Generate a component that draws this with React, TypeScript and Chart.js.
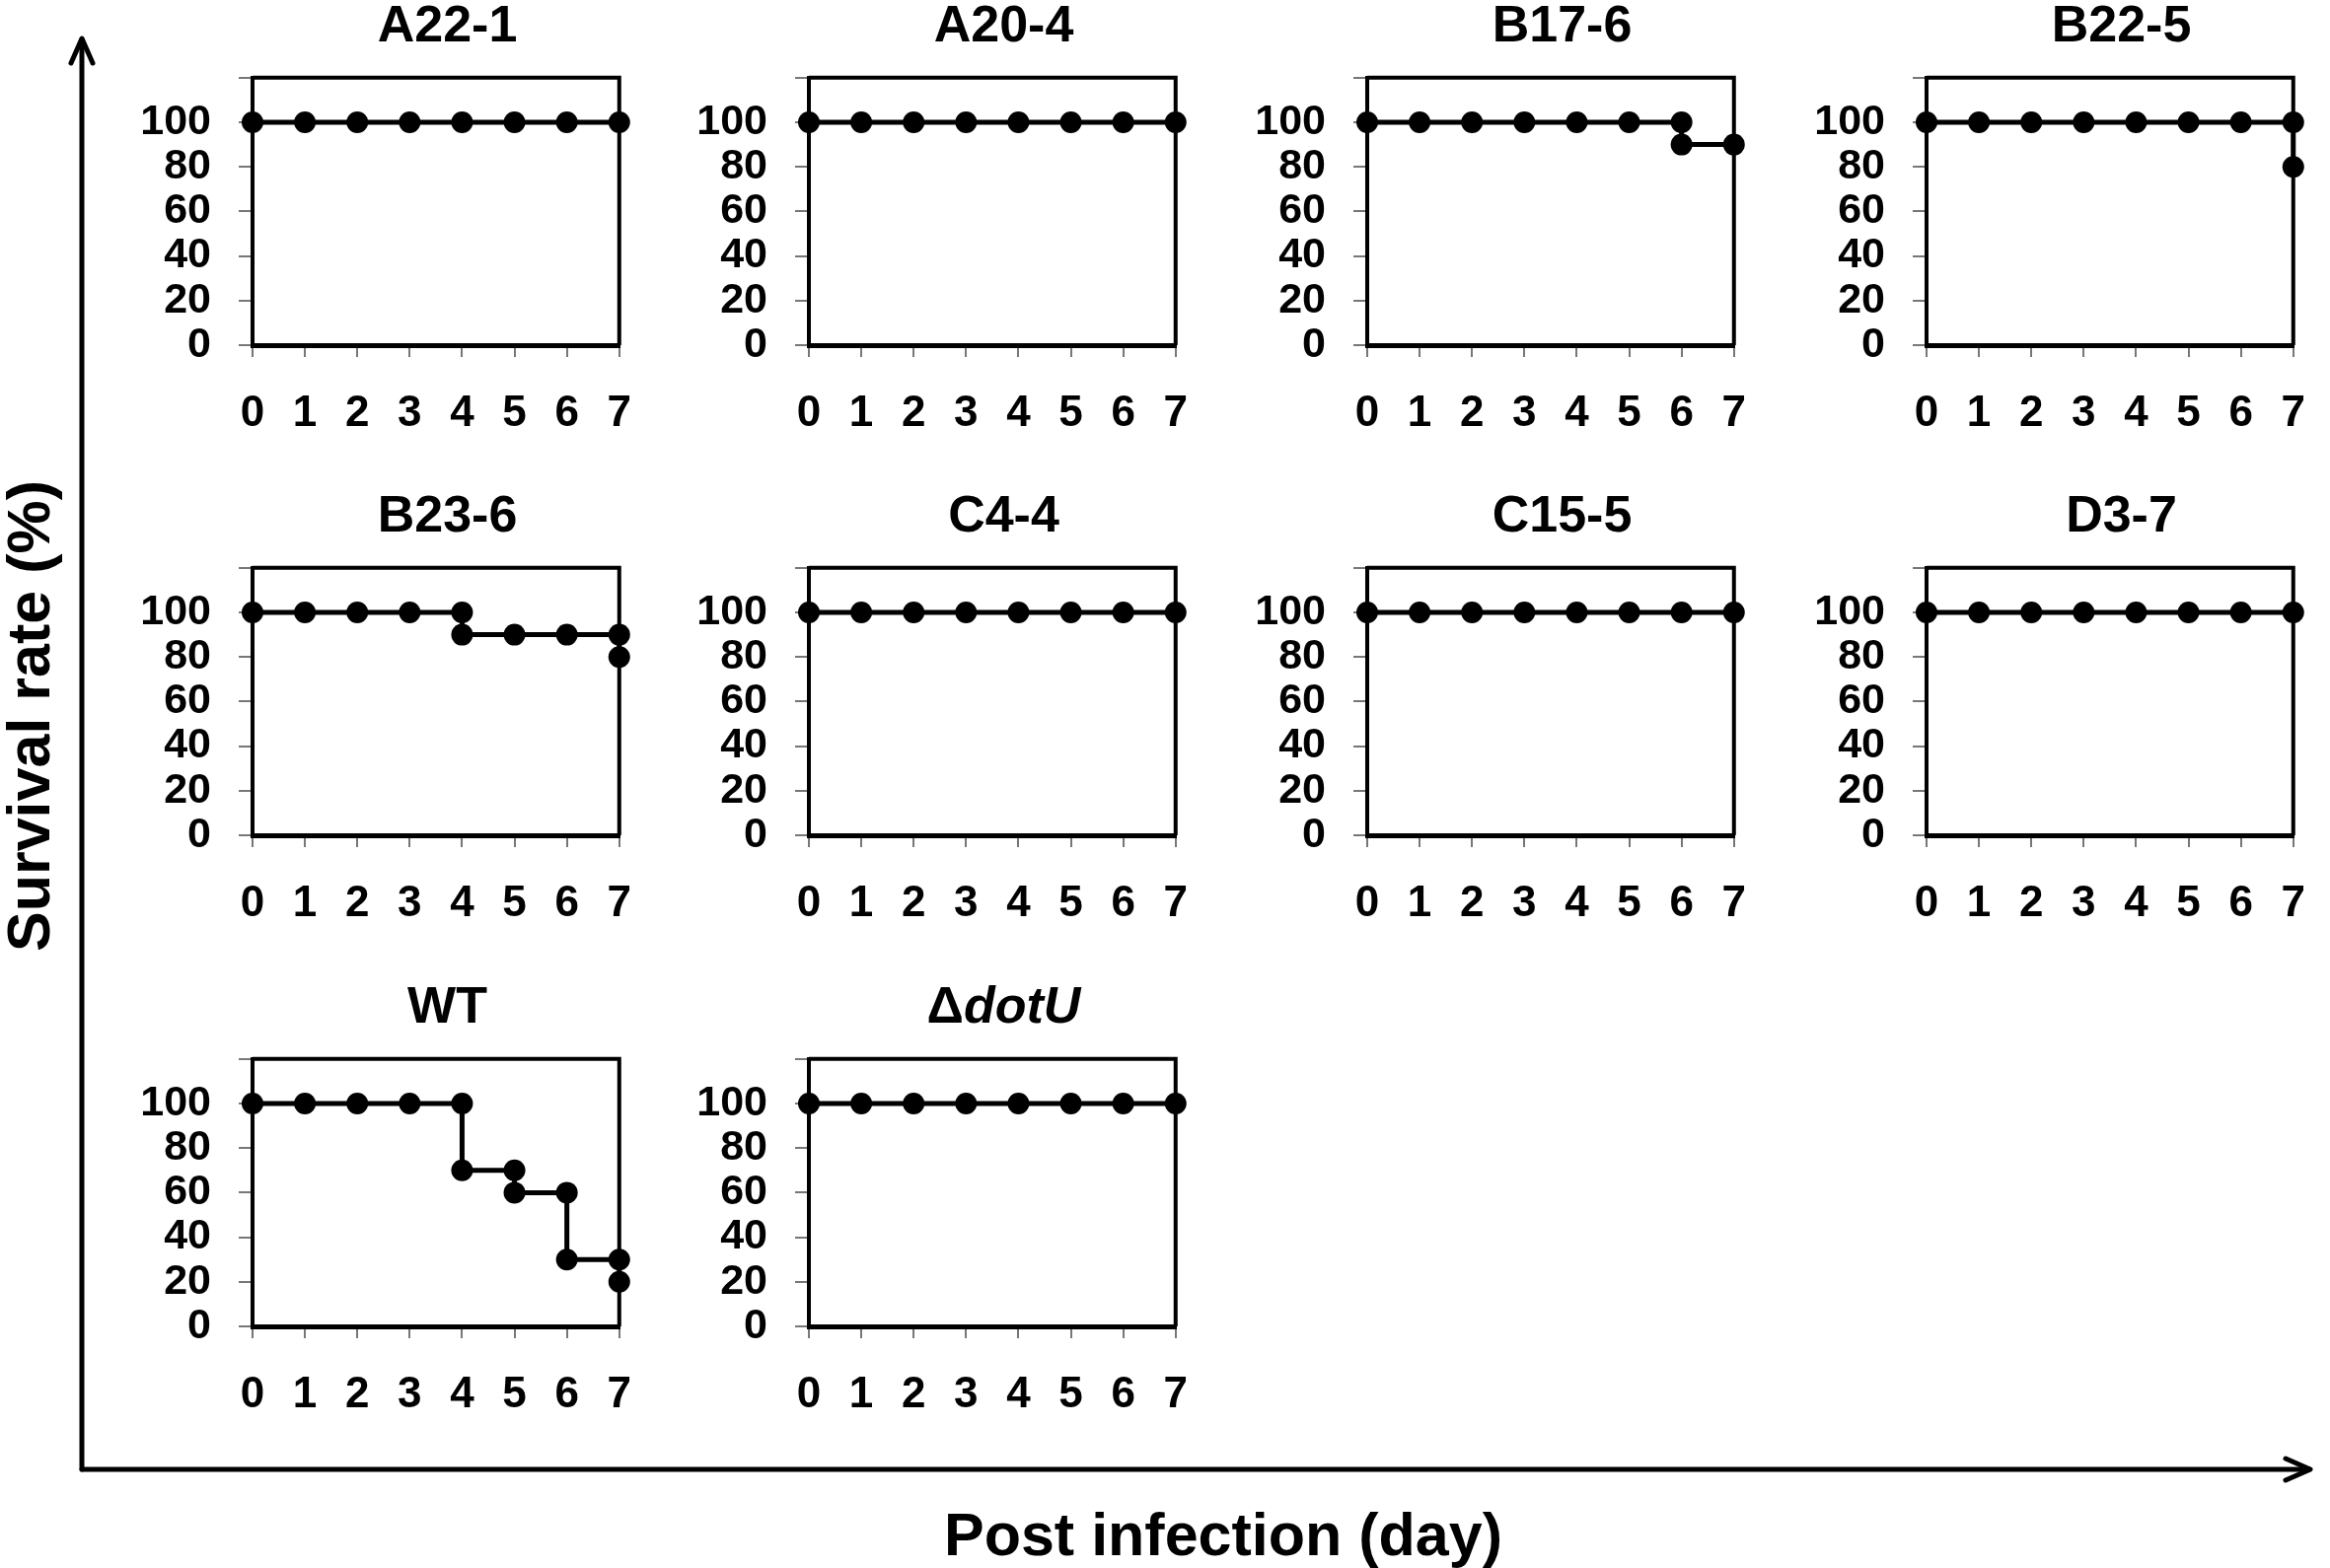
import { useEffect, useRef } from 'react';
import { Chart, registerables } from 'chart.js';

Chart.register(...registerables);

const FONT = '"Liberation Sans", Arial, Helvetica, sans-serif';

// strains in reading order (4 per row)
const strains = ['A22-1', 'A20-4', 'B17-6', 'B22-5', 'B23-6', 'C4-4', 'C15-5', 'D3-7', 'WT', 'ΔdotU'];

// tick labels
const dayTicks = [0, 1, 2, 3, 4, 5, 6, 7];
const rateTicks = [0, 20, 40, 60, 80, 100, 120];

// survival curves: a day appears twice where the curve steps down
const a22Days = [0, 1, 2, 3, 4, 5, 6, 7];
const a22Rates = [100, 100, 100, 100, 100, 100, 100, 100];
const a20Days = [0, 1, 2, 3, 4, 5, 6, 7];
const a20Rates = [100, 100, 100, 100, 100, 100, 100, 100];
const b17Days = [0, 1, 2, 3, 4, 5, 6, 6, 7];
const b17Rates = [100, 100, 100, 100, 100, 100, 100, 90, 90];
const b22Days = [0, 1, 2, 3, 4, 5, 6, 7, 7];
const b22Rates = [100, 100, 100, 100, 100, 100, 100, 100, 80];
const b23Days = [0, 1, 2, 3, 4, 4, 5, 6, 7, 7];
const b23Rates = [100, 100, 100, 100, 100, 90, 90, 90, 90, 80];
const c4Days = [0, 1, 2, 3, 4, 5, 6, 7];
const c4Rates = [100, 100, 100, 100, 100, 100, 100, 100];
const c15Days = [0, 1, 2, 3, 4, 5, 6, 7];
const c15Rates = [100, 100, 100, 100, 100, 100, 100, 100];
const d3Days = [0, 1, 2, 3, 4, 5, 6, 7];
const d3Rates = [100, 100, 100, 100, 100, 100, 100, 100];
const wtDays = [0, 1, 2, 3, 4, 4, 5, 5, 6, 6, 7, 7];
const wtRates = [100, 100, 100, 100, 100, 70, 70, 60, 60, 30, 30, 20];
const dotUDays = [0, 1, 2, 3, 4, 5, 6, 7];
const dotURates = [100, 100, 100, 100, 100, 100, 100, 100];

const curveDays = [a22Days, a20Days, b17Days, b22Days, b23Days, c4Days, c15Days, d3Days, wtDays, dotUDays];
const curveRates = [a22Rates, a20Rates, b17Rates, b22Rates, b23Rates, c4Rates, c15Rates, d3Rates, wtRates, dotURates];

// layout of the plot boxes (px)
const colLeft = [256, 820, 1386, 1953];
const rowTop = [55, 552, 1050];
const BOX_W = 395;
const BOX_H = 295;
const PAD_L = 150;
const PAD_T = 30;
const PAD_R = 20;
const PAD_B = 110;

// draws the top and right sides of the box
const boxFrame = {
  id: 'boxFrame',
  beforeDatasetsDraw(chart: Chart) {
    const { ctx, chartArea } = chart;
    ctx.save();
    ctx.strokeStyle = '#000';
    ctx.lineWidth = 4;
    ctx.beginPath();
    ctx.moveTo(chartArea.left, chartArea.top);
    ctx.lineTo(chartArea.right, chartArea.top);
    ctx.lineTo(chartArea.right, chartArea.bottom);
    ctx.stroke();
    ctx.restore();
  },
};

function PanelTitle({ text }: { text: string }) {
  if (text.startsWith('Δ')) {
    return (
      <>
        Δ<i>{text.slice(1)}</i>
      </>
    );
  }
  return <>{text}</>;
}

function SurvivalPanel({ title, days, rates, left, top }: { title: string; days: number[]; rates: number[]; left: number; top: number }) {
  const canvasRef = useRef<HTMLCanvasElement>(null);
  const chartRef = useRef<Chart | null>(null);

  useEffect(() => {
    if (!canvasRef.current) return;
    const ctx = canvasRef.current.getContext('2d');
    if (!ctx) return;
    if (chartRef.current) chartRef.current.destroy();

    chartRef.current = new Chart(ctx, {
      type: 'line',
      data: {
        datasets: [
          {
            data: days.map((d, i) => ({ x: d, y: rates[i] })),
            borderColor: '#000',
            borderWidth: 5,
            pointRadius: 11,
            pointHoverRadius: 11,
            pointBackgroundColor: '#000',
            pointBorderWidth: 0,
            tension: 0,
            clip: false,
          },
        ],
      },
      options: {
        responsive: false,
        animation: false,
        events: [],
        layout: { padding: { left: 0, top: PAD_T, right: PAD_R, bottom: 0 } },
        plugins: {
          legend: { display: false },
          title: { display: false },
          tooltip: { enabled: false },
        },
        scales: {
          x: {
            type: 'linear',
            min: 0,
            max: 7,
            afterBuildTicks: (s: any) => {
              s.ticks = dayTicks.map((v) => ({ value: v }));
            },
            afterFit: (s: any) => {
              s.height = PAD_B;
            },
            ticks: {
              color: '#000',
              font: { family: FONT, size: 44, weight: 'bold' },
              padding: 31,
              maxRotation: 0,
              autoSkip: false,
            },
            grid: {
              drawOnChartArea: false,
              drawTicks: true,
              tickLength: 12,
              color: '#777',
              lineWidth: 2,
            },
            border: { display: true, color: '#000', width: 5 },
          },
          y: {
            type: 'linear',
            min: 0,
            max: 120,
            afterBuildTicks: (s: any) => {
              s.ticks = rateTicks.map((v) => ({ value: v }));
            },
            afterFit: (s: any) => {
              s.width = PAD_L;
            },
            ticks: {
              color: '#000',
              font: { family: FONT, size: 43, weight: 'bold' },
              padding: 28,
              autoSkip: false,
              callback: (v: any) => (v === 120 ? '' : String(v)),
            },
            grid: {
              drawOnChartArea: false,
              drawTicks: true,
              tickLength: 14,
              color: '#777',
              lineWidth: 2,
            },
            border: { display: true, color: '#000', width: 4 },
          },
        },
      },
      plugins: [boxFrame],
    });

    return () => {
      if (chartRef.current) {
        chartRef.current.destroy();
        chartRef.current = null;
      }
    };
  }, [days, rates]);

  const w = PAD_L + BOX_W + PAD_R;
  const h = PAD_T + BOX_H + PAD_B;

  return (
    <>
      <div
        style={{
          position: 'absolute',
          left,
          top: top - 57,
          width: BOX_W,
          textAlign: 'center',
          font: `bold 52px ${FONT}`,
          lineHeight: '52px',
          color: '#000',
          whiteSpace: 'nowrap',
        }}
      >
        <PanelTitle text={title} />
      </div>
      <canvas
        ref={canvasRef}
        width={w}
        height={h}
        style={{ position: 'absolute', left: left - PAD_L, top: top - PAD_T, width: w, height: h }}
      />
    </>
  );
}

export default function App() {
  return (
    <div
      style={{
        position: 'absolute',
        left: 0,
        top: 0,
        width: 2362,
        height: 1590,
        background: '#fff',
        overflow: 'hidden',
        fontFamily: FONT,
      }}
    >
      <svg width={2362} height={1590} style={{ position: 'absolute', left: 0, top: 0 }}>
        <g fill="none" stroke="#000" strokeWidth={5} strokeLinecap="round" strokeLinejoin="round">
          <polyline points="83,1490 83,40" />
          <polyline points="72,64 83,39 94,64" />
          <polyline points="83,1490 2341,1490" />
          <polyline points="2317,1479 2342,1490 2317,1501" />
        </g>
      </svg>
      <div
        style={{
          position: 'absolute',
          left: 29 - 300,
          top: 726 - 30,
          width: 600,
          height: 60,
          textAlign: 'center',
          font: `bold 61px ${FONT}`,
          lineHeight: '60px',
          transform: 'rotate(-90deg)',
          whiteSpace: 'nowrap',
        }}
      >
        Survival rate (%)
      </div>
      <div
        style={{
          position: 'absolute',
          left: 1240 - 400,
          top: 1526,
          width: 800,
          textAlign: 'center',
          font: `bold 61px ${FONT}`,
          lineHeight: '60px',
          whiteSpace: 'nowrap',
        }}
      >
        Post infection (day)
      </div>
      {strains.map((name, i) => (
        <SurvivalPanel
          key={name}
          title={name}
          days={curveDays[i]}
          rates={curveRates[i]}
          left={colLeft[i % 4]}
          top={rowTop[Math.floor(i / 4)]}
        />
      ))}
    </div>
  );
}
